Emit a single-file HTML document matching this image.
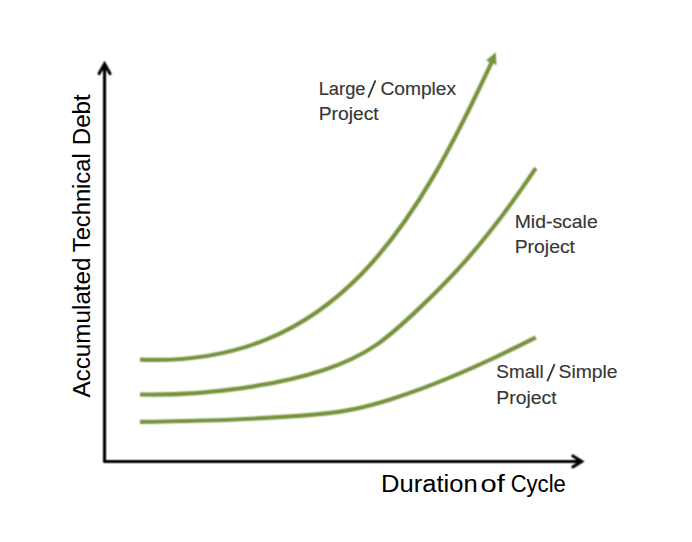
<!DOCTYPE html>
<html><head><meta charset="utf-8"><style>
html,body{margin:0;padding:0;background:#fff;width:692px;height:542px;overflow:hidden}
svg{display:block}
text{font-family:"Liberation Sans",sans-serif}
</style></head><body>
<svg width="692" height="542" viewBox="0 0 692 542">
<defs><filter id="bl" x="0" y="0" width="692" height="542" filterUnits="userSpaceOnUse"><feConvolveMatrix order="3" kernelMatrix="1 2 1 2 4 2 1 2 1" edgeMode="none"/></filter></defs>
<rect width="692" height="542" fill="#fff"/>
<g filter="url(#bl)">
<path d="M104.55,65 L104.55,461.45 L581,461.45" fill="none" stroke="#000" stroke-width="3.1" stroke-linejoin="round"/>
<path d="M99.1,73.6 L104.55,64.0 L110.0,73.6" fill="none" stroke="#000" stroke-width="3.1" stroke-linecap="round" stroke-linejoin="miter"/>
<path d="M572.9,456.0 L581.7,461.45 L572.9,466.9" fill="none" stroke="#000" stroke-width="3.1" stroke-linecap="round" stroke-linejoin="miter"/>
<g fill="none" stroke="#77933C" stroke-width="4.2">
<path d="M140,359.6 C336.2,367.8 416.7,222.8 491.6,62.3 L492.4,60.5"/>
<path d="M140,394.5 C208.4,395.9 278.2,384.8 323.1,370.2 C368,355.7 388,337.7 416.8,310.6 C445.5,283.4 483.1,247.1 535.8,168.2"/>
<path d="M140,421.9 C205.9,421 263.6,418.7 302.2,415.7 C340.9,412.7 360.7,409 392.6,398.7 C424.5,388.5 468.6,371.8 535.8,337.3"/>
</g>
<polygon points="495.7,52.3 486.1,60.4 496.5,65" fill="#77933C"/>
</g>
<text x="318.70" y="95" font-size="18.3" fill="#363636" stroke="#363636" stroke-width="0.15" textLength="46.80" lengthAdjust="spacingAndGlyphs">Large</text>
<path d="M368.3,97.6 L375.5,80.3" stroke="#363636" stroke-width="1.8" fill="none"/>
<text x="380.40" y="95" font-size="18.3" fill="#363636" stroke="#363636" stroke-width="0.15" textLength="75.70" lengthAdjust="spacingAndGlyphs">Complex</text>
<text x="318.70" y="119.7" font-size="18.3" fill="#363636" stroke="#363636" stroke-width="0.15" textLength="60.00" lengthAdjust="spacingAndGlyphs">Project</text>
<text x="514.70" y="227.7" font-size="18.3" fill="#363636" stroke="#363636" stroke-width="0.15" textLength="83.00" lengthAdjust="spacingAndGlyphs">Mid-scale</text>
<text x="514.70" y="252.7" font-size="18.3" fill="#363636" stroke="#363636" stroke-width="0.15" textLength="60.30" lengthAdjust="spacingAndGlyphs">Project</text>
<text x="496.30" y="378.3" font-size="18.3" fill="#363636" stroke="#363636" stroke-width="0.15" textLength="47.30" lengthAdjust="spacingAndGlyphs">Small</text>
<path d="M547.3,381.3 L554.6,364.1" stroke="#363636" stroke-width="1.8" fill="none"/>
<text x="558.50" y="378.3" font-size="18.3" fill="#363636" stroke="#363636" stroke-width="0.15" textLength="59.10" lengthAdjust="spacingAndGlyphs">Simple</text>
<text x="496.30" y="403.6" font-size="18.3" fill="#363636" stroke="#363636" stroke-width="0.15" textLength="60.30" lengthAdjust="spacingAndGlyphs">Project</text>
<text x="381.00" y="491.7" font-size="23.3" fill="#000" stroke="#000" stroke-width="0.05" textLength="96.70" lengthAdjust="spacingAndGlyphs">Duration</text>
<text x="480.50" y="491.7" font-size="23.3" fill="#000" stroke="#000" stroke-width="0.05" textLength="24.20" lengthAdjust="spacingAndGlyphs">of</text>
<text x="510.70" y="491.7" font-size="23.3" fill="#000" stroke="#000" stroke-width="0.05" textLength="55.10" lengthAdjust="spacingAndGlyphs">Cycle</text>
<text transform="translate(89.8,397.60) rotate(-90)" font-size="23.3" fill="#000" stroke="#000" stroke-width="0.05" textLength="140.20" lengthAdjust="spacingAndGlyphs">Accumulated</text>
<text transform="translate(89.8,252.20) rotate(-90)" font-size="23.3" fill="#000" stroke="#000" stroke-width="0.05" textLength="98.90" lengthAdjust="spacingAndGlyphs">Technical</text>
<text transform="translate(89.8,145.30) rotate(-90)" font-size="23.3" fill="#000" stroke="#000" stroke-width="0.05" textLength="51.10" lengthAdjust="spacingAndGlyphs">Debt</text>
</svg>
</body></html>
